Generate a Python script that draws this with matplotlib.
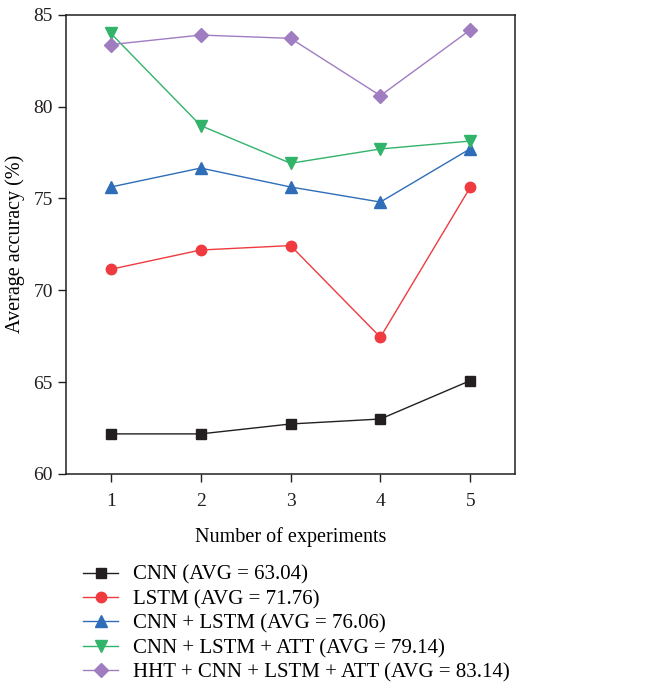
import matplotlib.pyplot as plt

plt.rcParams['font.family'] = ['Liberation Serif', 'DejaVu Serif']

experiments = [1, 2, 3, 4, 5]

cnn = [62.18, 62.18, 62.72, 62.99, 65.08]
lstm = [71.14, 72.19, 72.43, 67.44, 75.60]
cnn_lstm = [75.62, 76.65, 75.62, 74.80, 77.70]
cnn_lstm_att = [83.98, 78.96, 76.91, 77.69, 78.12]
hht_cnn_lstm_att = [83.37, 83.89, 83.71, 80.59, 84.17]

labels = ["CNN (AVG = 63.04)",
          "LSTM (AVG = 71.76)",
          "CNN + LSTM (AVG = 76.06)",
          "CNN + LSTM + ATT (AVG = 79.14)",
          "HHT + CNN + LSTM + ATT (AVG = 83.14)"]

series = [cnn, lstm, cnn_lstm, cnn_lstm_att, hht_cnn_lstm_att]
colors = ["#231f20", "#ef3b3f", "#2f6db8", "#32b36a", "#a07cc0"]
markers = ["s", "o", "^", "v", "D"]
msizes = [7, 7.5, 8, 8, 7]

fig = plt.figure(figsize=(6.63, 6.98), dpi=100)
ax = fig.add_axes([0.0995, 0.321, 0.6775, 0.658])

for ys, c, m, ms, lab in zip(series, colors, markers, msizes, labels):
    ax.plot(experiments, ys, color=c, marker=m, markersize=ms, linewidth=1, label=lab)

ax.set_xlim(0.5, 5.5)
ax.set_ylim(60, 85)
ax.set_xticks(experiments)
ax.set_yticks([60, 65, 70, 75, 80, 85])
ax.tick_params(direction='out', length=6, width=1, labelsize=14, colors='#231f20')
ax.tick_params(axis='x', pad=8)
for s in ax.spines.values():
    s.set_linewidth(1.1)
    s.set_color('#231f20')
ax.set_xlabel("Number of experiments", fontsize=14.5, labelpad=12)
ax.set_ylabel("Average accuracy (%)", fontsize=14.5, labelpad=6)

handles, labs = ax.get_legend_handles_labels()
fig.legend(handles, labs, loc='upper left', bbox_to_anchor=(0.125, 0.19), frameon=False,
           fontsize=15, handlelength=1.7, labelspacing=0.23, handletextpad=0.72,
           borderaxespad=0, borderpad=0)

fig.savefig("out.png", dpi=100)
